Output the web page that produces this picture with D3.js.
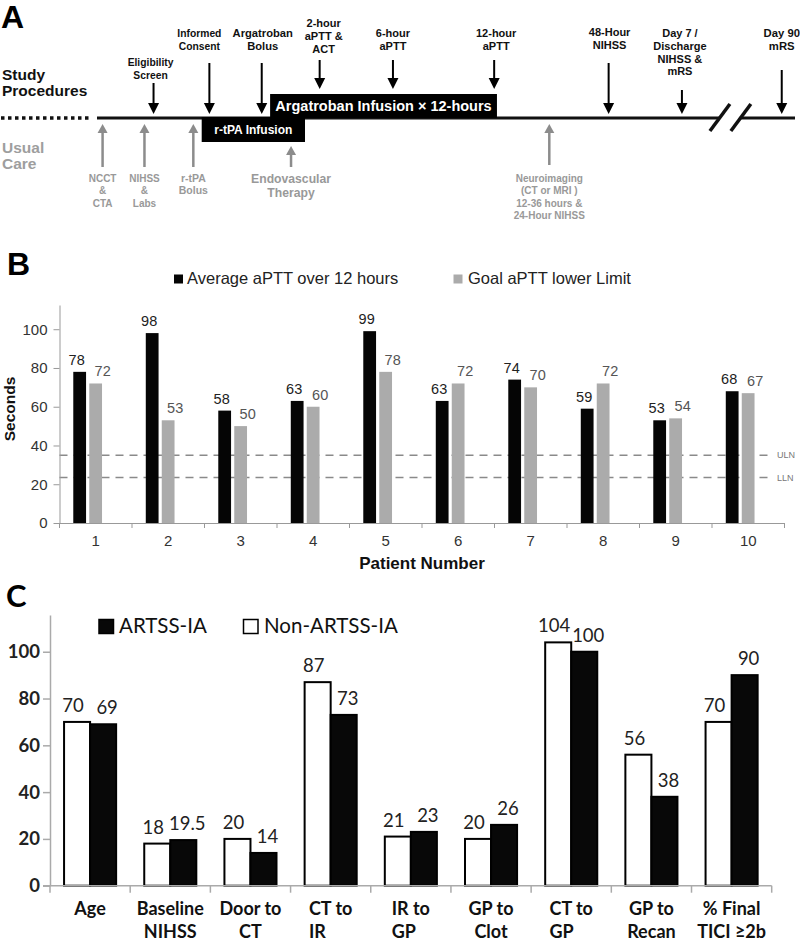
<!DOCTYPE html>
<html><head><meta charset="utf-8">
<script src="https://cdn.jsdelivr.net/npm/d3@7"></script>
<style>body{margin:0;background:#fff} svg{display:block}</style>
</head><body>
<svg id="chart" width="800" height="943"></svg>
<script>
// ================= DATA =================
// Panel A – timeline (t = notional position along the protocol timeline, 0..100)
const rowLabels = [["Study","Procedures"],["Usual","Care"]];
const studyEventLabels = [["Eligibility","Screen"],["Informed","Consent"],["Argatroban","Bolus"],["2-hour","aPTT &","ACT"],["6-hour","aPTT"],["12-hour","aPTT"],["48-Hour","NIHSS"],["Day 7 /","Discharge","NIHSS &","mRS"],["Day 90","mRS"]];
const studyEventTimes = [8.1,16.1,23.6,31.9,42.4,56.9,73.3,83.8,98.1];
const careEventLabels = [["NCCT","&","CTA"],["NIHSS","&","Labs"],["r-tPA","Bolus"],["Endovascular","Therapy"],["Neuroimaging","(CT or MRI )","12-36 hours &","24-Hour NIHSS"]];
const careEventTimes = [0.8,6.8,13.8,27.8,64.8];
const infusionNames = ["r-tPA Infusion","Argatroban Infusion × 12-hours"];
const infusionStart = [15.0,24.8];
const infusionEnd = [29.8,57.3];
const timeBreak = [89.1,92.1];

// Panel B – aPTT per patient
const patients = ["1","2","3","4","5","6","7","8","9","10"];
const seriesB = ["Average aPTT over 12 hours","Goal aPTT lower Limit"];
const avgAPTT = [78,98,58,63,99,63,74,59,53,68];
const goalAPTT = [72,53,50,60,78,72,70,72,54,67];
const refValues = [35,23.5];
const refLabels = ["ULN","LLN"];
const ticksB = [0,20,40,60,80,100];

// Panel C – ARTSS-IA comparison
const categoriesC = ["Age","Baseline\nNIHSS","Door to\nCT","CT to\nIR","IR to\nGP","GP to\nClot","CT to\nGP","GP to\nRecan","% Final\nTICI ≥2b"];
const seriesC = ["ARTSS-IA","Non-ARTSS-IA"];
const nonArtss = [70,18,20,87,21,20,104,56,70];
const artss = [69,19.5,14,73,23,26,100,38,90];
const ticksC = [0,20,40,60,80,100];

// ================= LAYOUT / STYLE =================
const fA = "'Liberation Sans', Arial, sans-serif";
const fC = "Lato, 'Open Sans', sans-serif";
const svg = d3.select("#chart");

// ---------- Panel A ----------
const A = svg.append("g");
A.append("text").attr("x",1).attr("y",28).text("A")
  .style("font-family",fA).style("font-weight","bold").style("font-size","32px").attr("fill","#000");
const rowY = [[80,96],[153,169]], rowCol = ["#111","#9e9e9e"];
rowLabels.forEach((ls,i)=>ls.forEach((l,j)=>A.append("text").attr("x",2).attr("y",rowY[i][j]).text(l)
  .style("font-family",fA).style("font-weight","bold").style("font-size","15.5px").attr("fill",rowCol[i])));

const lineY = 118;
const xT = d3.scaleLinear().domain([0,100]).range([97,795]);
// dotted lead-in
A.append("line").attr("x1",1).attr("x2",xT(0)-6).attr("y1",lineY).attr("y2",lineY)
  .attr("stroke","#111").attr("stroke-width",3.5).attr("stroke-dasharray","3.5 3.5");
// solid timeline with break
A.append("line").attr("x1",xT(0)).attr("x2",xT(timeBreak[0])).attr("y1",lineY).attr("y2",lineY).attr("stroke","#111").attr("stroke-width",3);
A.append("line").attr("x1",xT(timeBreak[1])).attr("x2",xT(100)).attr("y1",lineY).attr("y2",lineY).attr("stroke","#111").attr("stroke-width",3);
timeBreak.forEach(t=>A.append("line").attr("x1",xT(t)+11).attr("y1",lineY-14).attr("x2",xT(t)-9).attr("y2",lineY+13)
  .attr("stroke","#111").attr("stroke-width",3.5));

// infusion boxes
const boxY = [[117,142],[94,118]], boxFont = [12,14.5];
infusionNames.forEach((n,i)=>{
  const x0 = xT(infusionStart[i]), x1 = xT(infusionEnd[i]);
  A.append("rect").attr("x",x0).attr("y",boxY[i][0]).attr("width",x1-x0).attr("height",boxY[i][1]-boxY[i][0]).attr("fill","#000");
  A.append("text").attr("x",(x0+x1)/2).attr("y",(boxY[i][0]+boxY[i][1])/2).attr("dy","0.36em").attr("text-anchor","middle").text(n)
    .style("font-family",fA).style("font-weight","bold").style("font-size",boxFont[i]+"px").attr("fill","#fff");
});

// study procedure arrows (down)
const studyLabelTop = [66,37,37,27,37,37,36,37,37];
const studyArrowTop = [83,63,63,60,60,60,63,90,70];
const studyFont = [10.3,10.3,11.2,11,11,11,11,11,11.3];
const studyLabelDx = [-3,-10,1,4,0,2,1,-2,0];
studyEventTimes.forEach((t,i)=>{
  const x = xT(t);
  const inArg = t>=infusionStart[1] && t<=infusionEnd[1];
  const tip = inArg ? boxY[1][0]-5 : lineY-4;
  A.append("line").attr("x1",x).attr("x2",x).attr("y1",studyArrowTop[i]).attr("y2",tip-8).attr("stroke","#000").attr("stroke-width",2);
  A.append("path").attr("d",`M${x-5.5},${tip-11}L${x+5.5},${tip-11}L${x},${tip}Z`).attr("fill","#000");
  studyEventLabels[i].forEach((l,j)=>A.append("text").attr("x",x+studyLabelDx[i]).attr("y",studyLabelTop[i]+j*12.8).attr("text-anchor","middle").text(l)
    .style("font-family",fA).style("font-weight","bold").style("font-size",studyFont[i]+"px").attr("fill","#111"));
});

// usual care arrows (up, gray)
const careFont = [10,10,10.5,12.2,10];
const careTail = [167,167,167,167,165];
careEventTimes.forEach((t,i)=>{
  const x = xT(t);
  const inTpa = t>=infusionStart[0] && t<=infusionEnd[0];
  const tip = inTpa ? boxY[0][1]+4 : lineY+6;
  A.append("line").attr("x1",x).attr("x2",x).attr("y1",tip+7).attr("y2",careTail[i]).attr("stroke","#8c8c8c").attr("stroke-width",2.5);
  A.append("path").attr("d",`M${x-5},${tip+9}L${x+5},${tip+9}L${x},${tip}Z`).attr("fill","#8c8c8c");
  const sp = careFont[i]>12 ? 13.5 : 12.5;
  const top = careFont[i]>12 ? 183 : 181.5;
  careEventLabels[i].forEach((l,j)=>A.append("text").attr("x",x).attr("y",top+j*sp).attr("text-anchor","middle").text(l)
    .style("font-family",fA).style("font-weight","bold").style("font-size",careFont[i]+"px").attr("fill","#999"));
});

// ---------- Panel B ----------
const B = svg.append("g");
B.append("text").attr("x",7).attr("y",275).text("B")
  .style("font-family",fA).style("font-weight","bold").style("font-size","32px").attr("fill","#000");
const yB = d3.scaleLinear().domain([0,112.5]).range([523,305]);
const xB = d3.scaleBand().domain(patients).range([59.5,784.5]);
const subB = d3.scaleBand().domain(seriesB).range([0,xB.bandwidth()]).paddingInner(0.2).paddingOuter(1.37).align(0.315);
const colB = ["#050505","#ababab"], labColB = ["#222","#555"], labDx = [-3,7];
const valsB = [avgAPTT, goalAPTT];

// reference lines
refValues.forEach((v,i)=>{
  B.append("line").attr("x1",59.5).attr("x2",771).attr("y1",yB(v)).attr("y2",yB(v))
    .attr("stroke","#8a8a8a").attr("stroke-width",1.6).attr("stroke-dasharray","8 6");
  B.append("text").attr("x",777).attr("y",yB(v)).attr("dy","0.35em").text(refLabels[i])
    .style("font-family",fA).style("font-size","9px").attr("fill","#777");
});
// bars
valsB.forEach((vals,s)=>{
  B.selectAll(null).data(vals).join("rect")
    .attr("x",(d,i)=>xB(patients[i])+subB(seriesB[s])).attr("width",subB.bandwidth())
    .attr("y",d=>yB(d)).attr("height",d=>yB(0)-yB(d)).attr("fill",colB[s]);
  B.selectAll(null).data(vals).join("text")
    .attr("x",(d,i)=>xB(patients[i])+subB(seriesB[s])+subB.bandwidth()/2+labDx[s])
    .attr("y",d=>yB(d)-7).attr("text-anchor","middle").text(d=>d)
    .style("font-family",fA).style("font-size","14.5px").attr("fill",labColB[s]);
});
// axes
const axYB = B.append("g").attr("transform","translate(59.5,0)")
  .call(d3.axisLeft(yB).tickValues(ticksB).tickSize(6).tickSizeOuter(0).tickPadding(6));
axYB.selectAll("text").style("font-family",fA).style("font-size","15px").attr("fill","#333");
axYB.selectAll("line").attr("stroke","#999");
axYB.select(".domain").attr("stroke","#999");
const axXB = B.append("g").attr("transform","translate(0,523)")
  .call(d3.axisBottom(xB).tickSize(0).tickPadding(12));
axXB.selectAll("text").style("font-family",fA).style("font-size","15px").attr("fill","#333");
axXB.select(".domain").attr("stroke","#999");
B.selectAll(null).data(patients.concat(["end"])).join("line")
  .attr("x1",(d,i)=>59.5+i*xB.step()).attr("x2",(d,i)=>59.5+i*xB.step())
  .attr("y1",523).attr("y2",528).attr("stroke","#999");
B.append("text").attr("x",(59.5+784.5)/2).attr("y",569).attr("text-anchor","middle").text("Patient Number")
  .style("font-family",fA).style("font-weight","bold").style("font-size","17px").attr("fill","#111");
B.append("text").attr("transform","translate(15,409) rotate(-90)").attr("text-anchor","middle").text("Seconds")
  .style("font-family",fA).style("font-weight","bold").style("font-size","15.5px").attr("fill","#111");
// legend
const legBX = [174,453.5], legBT = [187,468];
seriesB.forEach((s,i)=>{
  B.append("rect").attr("x",legBX[i]).attr("y",274.5).attr("width",9).attr("height",9).attr("fill",colB[i]);
  B.append("text").attr("x",legBT[i]).attr("y",283.5).text(s)
    .style("font-family",fA).style("font-size","16.5px").attr("fill","#222");
});

// ---------- Panel C ----------
const C = svg.append("g");
C.append("text").attr("x",6).attr("y",607).text("C")
  .style("font-family",fC).style("font-weight","bold").style("font-size","31px").attr("fill","#000");
const yC = d3.scaleLinear().domain([0,115.7]).range([885.7,615]);
const xC = d3.scaleBand().domain(categoriesC).range([50,771.7]);
const subC = d3.scaleBand().domain(["Non-ARTSS-IA","ARTSS-IA"]).range([0,xC.bandwidth()]).paddingOuter(0.54);
const valsC = {"Non-ARTSS-IA":nonArtss,"ARTSS-IA":artss};
const fillC = {"Non-ARTSS-IA":"#fff","ARTSS-IA":"#080808"};
const labDxC = {"Non-ARTSS-IA":-4,"ARTSS-IA":4};
["Non-ARTSS-IA","ARTSS-IA"].forEach(s=>{
  C.selectAll(null).data(valsC[s]).join("rect")
    .attr("x",(d,i)=>xC(categoriesC[i])+subC(s)).attr("width",subC.bandwidth())
    .attr("y",d=>yC(d)).attr("height",d=>yC(0)-yC(d))
    .attr("fill",fillC[s]).attr("stroke","#000").attr("stroke-width",2);
  C.selectAll(null).data(valsC[s]).join("text")
    .attr("x",(d,i)=>xC(categoriesC[i])+subC(s)+subC.bandwidth()/2+labDxC[s])
    .attr("y",d=>yC(d)-10).attr("text-anchor","middle").text(d=>d)
    .style("font-family",fC).style("font-size","18.5px").attr("fill","#222");
});
const axYC = C.append("g").attr("transform","translate(50,0)")
  .call(d3.axisLeft(yC).tickValues(ticksC).tickSize(7).tickSizeOuter(0).tickPadding(3));
axYC.selectAll("text").style("font-family",fC).style("font-weight","bold").style("font-size","18.5px").attr("fill","#222");
axYC.selectAll("line").attr("stroke","#aaa").attr("stroke-width",1.5);
axYC.select(".domain").attr("stroke","#aaa").attr("stroke-width",1.5);
C.append("line").attr("x1",43).attr("x2",771.7).attr("y1",yC(0)).attr("y2",yC(0)).attr("stroke","#aaa").attr("stroke-width",1.5);
C.selectAll(null).data(categoriesC.concat(["end"])).join("line")
  .attr("x1",(d,i)=>50+i*xC.step()).attr("x2",(d,i)=>50+i*xC.step())
  .attr("y1",yC(0)).attr("y2",yC(0)+7).attr("stroke","#aaa").attr("stroke-width",1.5);
const leftAligned = new Set(["CT to\nIR","IR to\nGP","CT to\nGP"]);
categoriesC.forEach(c=>{
  const cx = xC(c)+xC.bandwidth()/2;
  const lines = c.split("\n");
  const t1 = C.append("text").attr("x",cx).attr("y",915).attr("text-anchor","middle").text(lines[0])
    .style("font-family",fC).style("font-weight","bold").style("font-size","18px").attr("fill","#111");
  if(lines[1]){
    const w = t1.node().getComputedTextLength();
    const la = leftAligned.has(c);
    C.append("text").attr("x",la? cx-w/2 : cx).attr("y",938).attr("text-anchor",la?"start":"middle").text(lines[1])
      .style("font-family",fC).style("font-weight","bold").style("font-size","18px").attr("fill","#111");
  }
});
// legend
const legCX = [99,243.5], legCT = [119,264];
seriesC.forEach((s,i)=>{
  C.append("rect").attr("x",legCX[i]).attr("y",619.5).attr("width",14.5).attr("height",14)
    .attr("fill",fillC[s]).attr("stroke","#000").attr("stroke-width",1.5);
  C.append("text").attr("x",legCT[i]).attr("y",633).text(s)
    .style("font-family",fC).style("font-size","20.5px").attr("fill","#111");
});
</script>
</body></html>
